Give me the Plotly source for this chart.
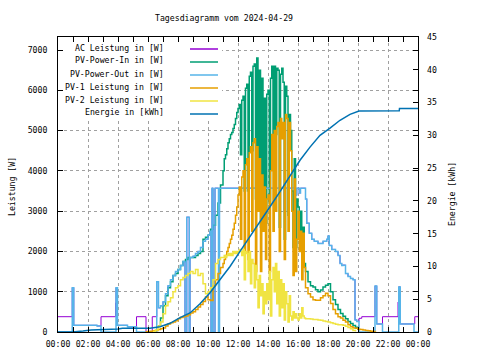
import plotly.graph_objects as go

# ---------------- data ----------------
tick_hours = [0, 2, 4, 6, 8, 10, 12, 14, 16, 18, 20, 22, 24]
tick_labels = ["00:00", "02:00", "04:00", "06:00", "08:00", "10:00", "12:00",
               "14:00", "16:00", "18:00", "20:00", "22:00", "00:00"]

# sampling grid for PV-In / PV-1 / PV-2 (minutes of day)
grid_minutes = list(range(350, 661, 10)) + list(range(665, 986, 5)) + list(range(990, 1281, 10))

pv_in_w = [None, None, None, None, None, 150, 350, 650, 900, 1100, 1250, 1400, 1450, 1550, 1650, 1750,
           1800, 1850, 1850, 1850, 1900, 1950, 2000, 2300, 2350, 2400, 2550, 2650, 2900, 3200, 3650, 4000,
           4300, 4400, 4550, 4700, 4800, 4900, 4950, 5050, 5150, 5300, 5450, 5550,
           5650, 4400, 5750, 5850, 3500, 6050, 6150, 3500, 6350, 6450, 4500, 6600,
           6650, 3300, 6800, 3800, 6500, 2600, 6300, 3100, 5800, 2700, 5900, 6000,
           3200, 6300, 6600, 4300, 6600, 4900, 6550, 6500, 2600, 6400, 6550, 6200,
           2300, 6100, 5850, 2900, 5400, 5000, 3500, 2100, 4300, 2100, 3300, 3100,
           2500, 3000, 1800, 2600, 1700,
           1500, 1250, 1150, 1120, 1050, 1000, 1040, 1120, 1160, 1200, 1000, 800,
           680, 560, 460, 390, 330, 260, 210, 160, 120, 50,
           None, None, None, None, None, None, None, None]

pv1_w = [5, 10, 20, 30, 40, 60, 80, 100, 150, 200, 230, 250, 280, 330, 360, 380,
         400, 430, 470, 500, 560, 620, 680, 760, 870, 800, 780, 1150, 1300, 1450, 1600, 1700,
         1800, 1900, 2000, 2100, 2200, 2300, 2400, 2550, 2700, 2900, 3100, 3400,
         3600, 2300, 3850, 4000, 2000, 4150, 4300, 1800, 4450, 4600, 2500, 4700,
         4800, 1500, 4600, 3000, 4300, 1500, 3900, 2500, 3600, 1800, 3300, 3400,
         1500, 4000, 4900, 2500, 5000, 3000, 5100, 5200, 2000, 5300, 4800, 5200,
         1800, 5400, 5300, 2500, 5200, 4500, 3000, 1400, 3800, 1500, 2300, 3000,
         2000, 2500, 1300, 2450, 1600,
         1100, 950, 870, 800, 790, 790, 850, 900, 960, 900, 710, 560,
         450, 380, 350, 290, 250, 180, 130, 100, 90, 70, 60, 50,
         40, 30, 20, 15, 10, None]

pv2_w = [None, None, None, 20, 50, 150, 250, 450, 650, 750, 850, 1000, 1100, 1150, 1300, 1350,
         1400, 1450, 1500, 1450, 1550, 1400, 1450, 1200, 950, 1000, 1100, 1300, 1700, 1800, 1850, 1850,
         1900, 1850, 1900, 1950, 1900, 1950, 1900, 2000, 1950, 2000, 1950, 2000,
         2050, 2000, 1900, 2050, 1300, 2000, 1950, 1500, 2000, 1200, 1800, 1700,
         1100, 1650, 1300, 600, 1400, 900, 1200, 450, 1000, 700, 1200, 800,
         1500, 400, 1300, 1600, 1000, 1700, 700, 1500, 400, 1300, 600, 1200,
         300, 1000, 700, 250, 900, 400, 300, 500, 350, 450, 350, 300,
         450, 350, 600, 400, 350,
         330, 330, 320, 310, 310, 300, 290, 270, 260, 250, 230, 210,
         190, 180, 180, 170, 140, 110, 80, 40, 10,
         None, None, None, None, None, None, None, None, None]

pv_out_t = ["00:00", "00:57", "01:03", "02:36", "02:52", "03:52", "03:58", "04:38", "05:14",
            "06:35", "06:42", "06:50", "07:00", "07:10", "07:20", "07:30", "07:40", "07:50", "08:00", "08:10", "08:20",
            "08:28", "08:35", "08:45", "08:48", "09:00", "09:10", "09:20", "09:30", "09:40", "09:50", "10:00", "10:08",
            "10:12", "10:16", "10:20", "10:28", "10:42", "10:46", "15:05", "15:10", "15:50", "15:55", "16:05", "16:10",
            "16:30", "16:35", "16:45", "16:55", "17:05", "17:20", "17:40", "17:55", "18:00", "18:05", "18:15", "18:30",
            "18:40", "18:48", "18:55", "19:00", "19:10", "19:20", "19:30", "19:40", "19:48", "19:55", "20:04",
            "21:08", "21:15", "21:38", "22:43", "22:49", "23:44", "24:00"]
pv_out_w = [0, 1100, 165, 150, 0, 1100, 165, 130, 0,
            1250, 600, 650, 750, 950, 1150, 1300, 1400, 1500, 1550, 1650, 1750,
            0, 2850, 0, 1850, 1880, 1950, 2000, 2100, 2250, 2300, 2400, 2500,
            0, 3570, 0, 3570, 0, 3570, 3000, 3570, 3400, 3570, 3450, 3570,
            3300, 2700, 2450, 2300, 2250, 2200, 2250, 2300, 2380, 2150, 2050, 2000,
            1900, 1700, 1650, 1660, 1450, 1380, 1330, 1300, 300, 260, 0,
            1140, 200, 0, 1120, 200, 0, 0]

ac_morning_t = ["00:00", "00:57", "01:03", "02:36", "02:52", "03:50", "03:52", "03:58",
                "04:38", "05:14", "05:52", "06:17"]
ac_morning_w = [380, 1100, 165, 150, 380, 720, 1100, 165, 130, 380, 0, 380]
ac_evening_t = ["20:04", "20:15", "21:08", "21:15", "21:38", "22:40", "22:43", "22:49", "23:47", "24:00"]
ac_evening_w = [340, 380, 1140, 200, 380, 744, 1120, 200, 380, 380]

energy_t = ["00:00", "00:57", "01:40", "02:12", "04:00", "04:18", "06:08", "06:48",
            "07:28", "08:08", "08:48", "09:28", "10:08", "10:48", "11:28", "12:08",
            "12:48", "13:28", "14:08", "14:48", "15:28", "16:08", "16:48", "17:28",
            "18:08", "18:48", "19:28", "20:04", "22:45", "22:46", "24:00"]
energy_kwh = [0, 0, 0.15, 0.3, 0.45, 0.56, 0.56, 0.8,
              1.33, 2.2, 2.9, 4.3, 6.0, 8.0, 10.0, 12.3,
              14.5, 16.8, 19.1, 21.4, 23.7, 26.2, 28.2, 30.0,
              31.1, 32.3, 33.2, 33.7, 33.75, 34.1, 34.1]

legend_labels = ["AC Leistung in [W]", "PV-Power-In in [W]", "PV-Power-Out in [W]",
                 "PV-1 Leistung in [W]", "PV-2 Leistung in [W]", "Energie in [kWh]"]
colors = ["#9400d3", "#009e73", "#56b4e9", "#e69f00", "#f0e442", "#0072b2"]

# ---------------- helpers ----------------
def hrs(s):
    hh, mm = s.split(":")
    return int(hh) + int(mm) / 60.0

grid_h = [m / 60.0 for m in grid_minutes]
assert len(grid_h) == len(pv_in_w) == len(pv1_w) == len(pv2_w)
assert len(pv_out_t) == len(pv_out_w)

i0 = pv_out_t.index("06:35")
i1 = pv_out_t.index("19:55") + 1
ac_t = ac_morning_t + pv_out_t[i0:i1] + ac_evening_t
ac_w = ac_morning_w + pv_out_w[i0:i1] + ac_evening_w

W, H = 480, 360
L, R, T, B = 58, 418, 37, 332
def px_x(x):
    return (x - L) / (R - L)
def px_y(y):
    return (B - y) / (B - T)

FONT = "DejaVu Sans Mono"
FS = 8.2

fig = go.Figure()
series = [
    ([hrs(t) for t in ac_t], ac_w, 1.0),
    (grid_h, pv_in_w, 1.5),
    ([hrs(t) for t in pv_out_t], pv_out_w, 1.5),
    (grid_h, pv1_w, 1.5),
    (grid_h, pv2_w, 1.5),
]
for (xs, ys, lw), c, name in zip(series, colors[:5], legend_labels[:5]):
    fig.add_trace(go.Scatter(x=xs, y=ys, mode="lines", name=name,
                             line=dict(color=c, width=lw, shape="hv"),
                             connectgaps=False, showlegend=False))
fig.add_trace(go.Scatter(x=[hrs(t) for t in energy_t], y=energy_kwh, mode="lines",
                         name=legend_labels[5], yaxis="y2",
                         line=dict(color=colors[5], width=1.5), showlegend=False))

grid_style = dict(showgrid=True, gridcolor="#a0a0a0", gridwidth=1, griddash="3px,3px")
fig.update_layout(
    width=W, height=H,
    margin=dict(l=L, r=W - R, t=T, b=H - B),
    paper_bgcolor="white", plot_bgcolor="white",
    font=dict(family=FONT, size=FS, color="black"),
    xaxis=dict(range=[0, 24], tickvals=tick_hours, ticktext=tick_labels,
               ticks="inside", ticklen=5, tickcolor="black", showline=True,
               linecolor="black", linewidth=1, mirror="allticks", zeroline=False,
               ticklabelstandoff=4,
               minor=dict(tickvals=[1, 3, 5, 7, 9, 11, 13, 15, 17, 19, 21, 23],
                          ticks="inside", ticklen=3, tickcolor="black", showgrid=False),
               tickfont=dict(family=FONT, size=FS), **grid_style),
    yaxis=dict(range=[0, 7323], tickvals=[0, 1000, 2000, 3000, 4000, 5000, 6000, 7000],
               ticks="inside", ticklen=5, tickcolor="black", showline=True,
               linecolor="black", linewidth=1, mirror="allticks", zeroline=False,
               ticklabelstandoff=8,
               tickfont=dict(family=FONT, size=FS), **grid_style),
    yaxis2=dict(range=[0, 45], dtick=5, overlaying="y", side="right",
                ticks="inside", ticklen=5, tickcolor="black", showline=False,
                showgrid=False, zeroline=False, ticklabelstandoff=8,
                tickfont=dict(family=FONT, size=FS)),
)

# opaque key box (covers grid only, leaves the border ticks visible)
shapes = [dict(type="rect", xref="paper", yref="paper", x0=px_x(64), x1=px_x(222),
               y0=px_y(119), y1=px_y(43), fillcolor="white", line=dict(width=0), layer="above")]
annotations = []
for i, (lab, c) in enumerate(zip(legend_labels, colors)):
    yl = 49 + 13 * i
    shapes.append(dict(type="line", xref="paper", yref="paper", x0=px_x(190), x1=px_x(218),
                       y0=px_y(yl), y1=px_y(yl), line=dict(color=c, width=1.5), layer="above"))
    annotations.append(dict(text=lab, xref="paper", yref="paper", x=px_x(166), y=px_y(yl - 1.5),
                            xanchor="right", yanchor="middle", showarrow=False,
                            font=dict(family=FONT, size=FS)))
annotations += [
    dict(text="Tagesdiagramm vom 2024-04-29", xref="paper", yref="paper", x=px_x(224), y=px_y(18),
         xanchor="center", yanchor="middle", showarrow=False, font=dict(family=FONT, size=FS)),
    dict(text="Leistung [W]", xref="paper", yref="paper", x=px_x(12), y=px_y(187),
         xanchor="center", yanchor="middle", textangle=-90, showarrow=False,
         font=dict(family=FONT, size=FS)),
    dict(text="Energie [kWh]", xref="paper", yref="paper", x=px_x(452), y=px_y(194),
         xanchor="center", yanchor="middle", textangle=-90, showarrow=False,
         font=dict(family=FONT, size=FS)),
]
fig.update_layout(shapes=shapes, annotations=annotations)
fig.write_html("out.html", config={"displayModeBar": False},
               post_script="document.body.style.margin='0px';document.body.style.overflow='hidden';")
